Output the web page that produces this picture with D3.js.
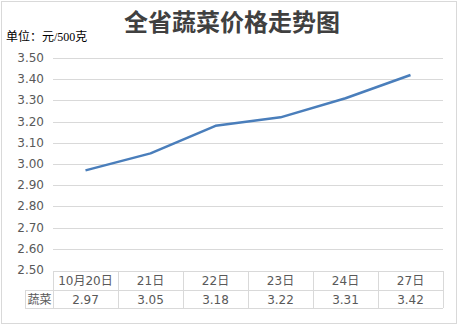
<!DOCTYPE html>
<html>
<head>
<meta charset="utf-8">
<script src="https://cdn.jsdelivr.net/npm/d3@7"></script>
<style>
  body { margin: 0; background: #fff; }
</style>
</head>
<body>
<div id="chart"></div>
<script>
var categories = ["10月20日", "21日", "22日", "23日", "24日", "27日"];
var seriesName = "蔬菜";
var prices = [2.97, 3.05, 3.18, 3.22, 3.31, 3.42];
var yTicks = [2.5, 2.6, 2.7, 2.8, 2.9, 3.0, 3.1, 3.2, 3.3, 3.4, 3.5];

var W = 458, H = 326;
var plotLeft = 53, plotRight = 443, plotTop = 58, plotBottom = 270;

var svg = d3.select("#chart").append("svg")
    .attr("width", W)
    .attr("height", H);

// outer frame
svg.append("rect")
    .attr("x", 1.5).attr("y", 1.5)
    .attr("width", W - 3).attr("height", 322)
    .attr("fill", "#fff")
    .attr("stroke", "#d9d9d9");

var x = d3.scaleBand().domain(categories).range([plotLeft, plotRight]);
var y = d3.scaleLinear().domain([2.5, 3.5]).range([plotBottom, plotTop]);

// gridlines
svg.append("g").selectAll("line")
    .data(yTicks.slice(1))
    .enter().append("line")
    .attr("x1", plotLeft).attr("x2", plotRight)
    .attr("y1", d => Math.round(y(d)) + 0.5)
    .attr("y2", d => Math.round(y(d)) + 0.5)
    .attr("stroke", "#d9d9d9");

// y labels
svg.append("g").selectAll("text")
    .data(yTicks)
    .enter().append("text")
    .attr("x", 44)
    .attr("y", d => y(d) + 4)
    .attr("text-anchor", "end")
    .style("font-family", "DejaVu Sans, sans-serif")
    .style("font-size", "12px")
    .style("fill", "#595959")
    .text(d => d.toFixed(2));

// line
var line = d3.line()
    .x((d, i) => x(categories[i]) + x.bandwidth() / 2)
    .y(d => y(d));

svg.append("path")
    .datum(prices)
    .attr("d", line)
    .attr("fill", "none")
    .attr("stroke", "#4a7ebb")
    .attr("stroke-width", 2.5)
    .attr("stroke-linejoin", "round");

// data table
var t1 = 271, t2 = 290, t3 = 308, labelX = 25;
var tbl = svg.append("g").attr("stroke", "#d9d9d9").attr("fill", "none");
tbl.append("line").attr("x1", plotLeft).attr("x2", plotRight).attr("y1", t1 + 0.5).attr("y2", t1 + 0.5);
tbl.append("line").attr("x1", labelX).attr("x2", plotRight).attr("y1", t2 + 0.5).attr("y2", t2 + 0.5);
tbl.append("line").attr("x1", labelX).attr("x2", plotRight).attr("y1", t3 + 0.5).attr("y2", t3 + 0.5);
tbl.append("line").attr("x1", labelX + 0.5).attr("x2", labelX + 0.5).attr("y1", t2).attr("y2", t3);
var cols = categories.map(c => x(c)).concat([plotRight]);
tbl.selectAll("line.v")
    .data(cols)
    .enter().append("line")
    .attr("class", "v")
    .attr("x1", d => Math.round(d) + 0.5).attr("x2", d => Math.round(d) + 0.5)
    .attr("y1", t1).attr("y2", t3);

var txt = svg.append("g")
    .style("font-family", "DejaVu Sans, 'Noto Sans CJK SC', sans-serif")
    .style("font-size", "12px")
    .style("fill", "#595959")
    .attr("text-anchor", "middle");

txt.selectAll("text.cat")
    .data(categories)
    .enter().append("text")
    .attr("class", "cat")
    .attr("x", d => x(d) + x.bandwidth() / 2)
    .attr("y", t1 + 14)
    .text(d => d);

txt.selectAll("text.val")
    .data(prices)
    .enter().append("text")
    .attr("class", "val")
    .attr("x", (d, i) => x(categories[i]) + x.bandwidth() / 2)
    .attr("y", t2 + 14)
    .text(d => d.toFixed(2));

txt.append("text")
    .attr("x", (labelX + plotLeft) / 2 + 0.5)
    .attr("y", t2 + 14)
    .text(seriesName);

// title
svg.append("text")
    .attr("x", 232)
    .attr("y", 31)
    .attr("text-anchor", "middle")
    .style("font-family", "'Noto Sans CJK SC', sans-serif")
    .style("font-size", "24px")
    .style("font-weight", "bold")
    .style("fill", "#404040")
    .text("全省蔬菜价格走势图");

// unit label
svg.append("text")
    .attr("x", 6)
    .attr("y", 41)
    .style("font-family", "'Liberation Serif', 'Noto Sans CJK SC', serif")
    .style("font-size", "12px")
    .style("fill", "#000")
    .text("单位：元/500克");
</script>
</body>
</html>
